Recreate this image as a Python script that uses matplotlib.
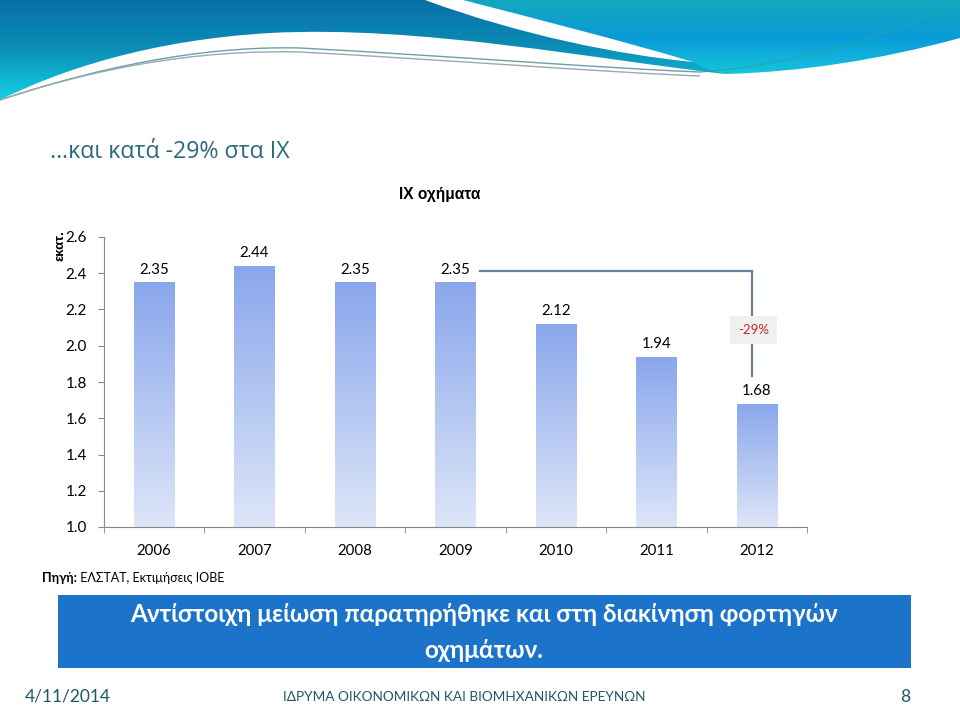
import numpy as np
import matplotlib
matplotlib.use("Agg")
import matplotlib.pyplot as plt
from matplotlib.path import Path
from matplotlib.patches import PathPatch, Rectangle
from matplotlib.colors import LinearSegmentedColormap

# ---- data ----
years = ["2006", "2007", "2008", "2009", "2010", "2011", "2012"]
values = [2.35, 2.44, 2.35, 2.35, 2.12, 1.94, 1.68]
yticks = [1.0, 1.2, 1.4, 1.6, 1.8, 2.0, 2.2, 2.4, 2.6]
change_label = "-29%"
chart_title = "ΙΧ οχήματα"
y_unit = "εκατ."
slide_title = "…και κατά -29% στα ΙΧ"
source_bold = "Πηγή:"
source_rest = " ΕΛΣΤΑΤ, Εκτιμήσεις ΙΟΒΕ"
box_line1 = "Αντίστοιχη μείωση παρατηρήθηκε και στη διακίνηση φορτηγών"
box_line2 = "οχημάτων."
footer_left = "4/11/2014"
footer_center = "ΙΔΡΥΜΑ ΟΙΚΟΝΟΜΙΚΩΝ ΚΑΙ ΒΙΟΜΗΧΑΝΙΚΩΝ ΕΡΕΥΝΩΝ"
footer_right = "8"

W, H = 960, 720
fig = plt.figure(figsize=(9.6, 7.2), dpi=100)
fig.patch.set_facecolor("white")

def fx(px):
    return px / W

def fy(py):
    return 1 - py / H

# ---- decoration layer (pixel coordinates) ----
bg = fig.add_axes([0, 0, 1, 1], zorder=0)
bg.set_xlim(0, W)
bg.set_ylim(H, 0)
bg.axis("off")

def grad_patch(verts, codes, colors, extent):
    path = Path(verts, codes)
    patch = PathPatch(path, facecolor="none", edgecolor="none")
    bg.add_patch(patch)
    cmap = LinearSegmentedColormap.from_list("g", colors)
    g = np.linspace(0, 1, 256).reshape(-1, 1)
    im = bg.imshow(g, cmap=cmap, extent=(extent[0], extent[1], extent[3], extent[2]),
                   aspect="auto", origin="upper", zorder=1)
    im.set_clip_path(patch)

M, L, C = Path.MOVETO, Path.LINETO, Path.CURVE4
# left shape
vA = [(0, 0), (425, 0),
      (520, 35), (620, 55), (693, 62),
      (710, 66), (715, 70), (725, 74),
      (600, 60), (420, 25), (270, 33),
      (150, 40), (60, 70), (0, 100),
      (0, 0)]
cA = [M, L, C, C, C, L, L, L, C, C, C, C, C, C, L]
grad_patch(vA, cA, ["#0a6fa5", "#0b8fb8", "#13d2e4"], (0, 760, 0, 100))
# right shape
vB = [(463, 0), (960, 0), (960, 38),
      (880, 60), (800, 72), (725, 74),
      (710, 70), (700, 66), (693, 62),
      (620, 40), (540, 20), (463, 0)]
cB = [M, L, L, C, C, C, L, L, L, C, C, C]
grad_patch(vB, cB, ["#12a8bc", "#0a9bd8", "#16c6dc"], (460, 960, 0, 75))
# thin lines
for off, col in [(0, "#6aa0a8"), (4, "#9aaab0")]:
    p = Path([(0, 100), (120, 60), (220, 46 + off), (300, 48 + off),
              (450, 56 + off), (600, 68 + off), (700, 72 + off)], [M, C, C, C, C, C, C])
    bg.add_patch(PathPatch(p, facecolor="none", edgecolor=col, lw=1.0, zorder=2))
p = Path([(700, 72), (800, 65), (900, 30), (955, 5)], [M, C, C, C])
bg.add_patch(PathPatch(p, facecolor="none", edgecolor="#1ea7a8", lw=0.8, zorder=2))

# blue box
bg.add_patch(Rectangle((58, 595), 853, 73, facecolor="#1b74c9", edgecolor="none", zorder=1))

# ---- texts ----
fig.text(fx(50), fy(152), slide_title, fontsize=16.7, color="#2b6a7e",
         family=["Open Sans", "DejaVu Sans"], va="center", ha="left")
fig.text(fx(440), fy(194), chart_title, fontsize=11.2, fontweight="bold", color="black",
         family=["Liberation Sans", "DejaVu Sans"], va="center", ha="center")
fig.text(fx(60), fy(246), y_unit, fontsize=9.5, fontweight="bold", rotation=90,
         family=["Liberation Sans", "DejaVu Sans"], va="center", ha="center")
t1 = fig.text(fx(42), fy(578), source_bold, fontsize=9, fontweight="bold",
              family=["Lato", "DejaVu Sans"], va="center", ha="left")
fig.canvas.draw()
bb = t1.get_window_extent()
fig.text(bb.x1 / W, fy(578), source_rest, fontsize=9,
         family=["Lato", "DejaVu Sans"], va="center", ha="left")
fig.text(fx(484), fy(615), box_line1, fontsize=17.5, color="white", fontweight="bold",
         family=["Lato", "DejaVu Sans"], va="center", ha="center")
fig.text(fx(484), fy(650), box_line2, fontsize=17.5, color="white", fontweight="bold",
         family=["Lato", "DejaVu Sans"], va="center", ha="center")
fcol = "#1f5866"
fig.text(fx(25), fy(697), footer_left, fontsize=12.5, color=fcol,
         family=["Lato", "DejaVu Sans"], va="center", ha="left")
fig.text(fx(464), fy(697), footer_center, fontsize=9.8, color=fcol,
         family=["Lato", "DejaVu Sans"], va="center", ha="center")
fig.text(fx(910), fy(697), footer_right, fontsize=12.5, color=fcol,
         family=["Lato", "DejaVu Sans"], va="center", ha="right")

# ---- chart ----
ax = fig.add_axes([fx(103.75), fy(527), (807 - 103.75) / W, (527 - 237) / H], zorder=2)
ax.patch.set_alpha(0)
x = np.arange(len(years))
bars = ax.bar(x, np.array(values) - yticks[0], bottom=yticks[0], width=0.4,
              facecolor="none", edgecolor="none")
cmap = LinearSegmentedColormap.from_list("bar", ["#dde6f8", "#8aa7ec"])
grad = np.linspace(0, 1, 256).reshape(-1, 1)
for r in bars:
    x0, y0, w, h = r.get_x(), r.get_y(), r.get_width(), r.get_height()
    im = ax.imshow(grad, cmap=cmap, extent=(x0, x0 + w, y0, y0 + h),
                   origin="lower", aspect="auto", zorder=1)
    im.set_clip_path(r)
ax.set_xlim(-0.5, len(years) - 0.5)
ax.set_ylim(yticks[0], yticks[-1])
ax.set_aspect("auto")

lab_font = ["Lato", "DejaVu Sans"]
for xi, v in zip(x, values):
    ax.annotate(f"{v:.2f}", (xi, v), xytext=(0, 4), textcoords="offset points",
                ha="center", va="bottom", fontsize=10.8, family=lab_font)

ax.set_yticks(yticks)
ax.set_yticklabels([f"{t:.1f}" for t in yticks], fontsize=11, family=lab_font)
ax.set_xticks(x)
ax.set_xticklabels(years, fontsize=10.8, family=lab_font)
ax.tick_params(axis="x", length=0, pad=12)
ax.set_xticks(np.arange(-0.5, len(years)), minor=True)
ax.tick_params(axis="x", which="minor", length=4, color="#888888")
ax.tick_params(axis="y", length=4, color="#888888", pad=8)
for s in ["top", "right"]:
    ax.spines[s].set_visible(False)
for s in ["left", "bottom"]:
    ax.spines[s].set_color("#888888")

# change bracket
yb = 2.412
xe = len(years) - 1 - 0.05
lc = "#6a8298"
ax.plot([3.25, xe], [yb, yb], color=lc, lw=1.6, zorder=3, clip_on=False)
ax.plot([xe, xe], [yb, 1.835], color=lc, lw=1.6, zorder=3, clip_on=False)
ax.text(xe + 0.02, 2.085, change_label, color="#c0282d", fontsize=9.5, family=lab_font,
        ha="center", va="center", zorder=4,
        bbox=dict(boxstyle="square,pad=0.6", facecolor="#f0f0f0", edgecolor="none"))

fig.savefig("out.png", dpi=100)
